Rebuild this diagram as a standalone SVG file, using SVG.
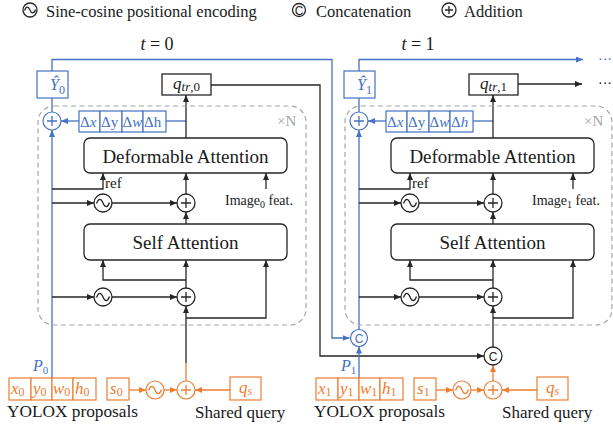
<svg xmlns="http://www.w3.org/2000/svg" width="613" height="429" viewBox="0 0 613 429">
<defs>
<style>
text{font-family:"Liberation Serif","DejaVu Serif",serif;fill:#1a1a1a}
.k{stroke:#262626;stroke-width:1.3;fill:none}
.b{stroke:#4472C4;stroke-width:1.3;fill:none}
.o{stroke:#ED7D31;stroke-width:1.3;fill:none}
.kb{stroke:#262626;stroke-width:1.3;fill:#fff}
.bb{stroke:#4472C4;stroke-width:1.2;fill:#fff}
.ob{stroke:#ED7D31;stroke-width:1.2;fill:#fff}
.dash{stroke:#A6A6A6;stroke-width:1.2;fill:none;stroke-dasharray:5 3.5}
.bt{fill:#4472C4}
.ot{fill:#ED7D31}
.m{font-style:italic}
.big{font-size:19px}
.lab{font-size:16.5px}
.d{font-size:15px;fill:#4472C4}
.o2{font-size:17px;fill:#ED7D31}
.cs{font-family:"Liberation Sans",sans-serif;font-size:12px}
</style>
<marker id="ak" markerWidth="7" markerHeight="6" refX="7" refY="3" orient="auto" markerUnits="userSpaceOnUse"><path d="M0,0 L7,3 L0,6 z" fill="#262626"/></marker>
<marker id="ab" markerWidth="7" markerHeight="6" refX="7" refY="3" orient="auto" markerUnits="userSpaceOnUse"><path d="M0,0 L7,3 L0,6 z" fill="#4472C4"/></marker>
<marker id="ao" markerWidth="7" markerHeight="6" refX="7" refY="3" orient="auto" markerUnits="userSpaceOnUse"><path d="M0,0 L7,3 L0,6 z" fill="#ED7D31"/></marker>
</defs>

<!-- legend -->
<g id="legend">
<circle cx="30" cy="10" r="7" class="kb"/>
<path d="M24.5,10.5 C26,6 28.5,6 30,10 C31.5,14 34,14 35.5,9.5" class="k"/>
<text x="46" y="16.5" class="lab">Sine-cosine positional encoding</text>
<circle cx="299" cy="10" r="6.5" class="kb"/>
<text x="299" y="14.5" text-anchor="middle" class="cs">C</text>
<text x="316" y="16.5" class="lab">Concatenation</text>
<circle cx="449" cy="10" r="7" class="kb"/>
<path d="M445,10 H453 M449,6 V14" class="k"/>
<text x="464" y="16.5" class="lab">Addition</text>
<text x="157" y="50" font-size="18" text-anchor="middle"><tspan class="m">t</tspan> = 0</text>
<text x="418" y="50" font-size="18" text-anchor="middle"><tspan class="m">t</tspan> = 1</text>
</g>

<!-- connectors -->
<g id="connectors">
<!-- left block -->
<path d="M52,71 V59.5 H332 V338 H349.5" class="b" marker-end="url(#ab)"/>
<path d="M52,98 V112" class="b"/>
<path d="M52,378 V130" class="b" marker-end="url(#ab)"/>
<path d="M79,121 H61" class="b" marker-end="url(#ab)"/>
<path d="M166,121 H186" class="b"/>
<path d="M186,138 V95" class="k" marker-end="url(#ak)"/>
<path d="M211,85 H320 V356 H484" class="k" marker-end="url(#ak)"/>
<path d="M52,189 H103 V173" class="k" marker-end="url(#ak)"/>
<path d="M52,203 H94" class="k" marker-end="url(#ak)"/>
<path d="M112,203 H177" class="k" marker-end="url(#ak)"/>
<path d="M186,224 V212" class="k" marker-end="url(#ak)"/>
<path d="M186,194 V173" class="k" marker-end="url(#ak)"/>
<path d="M266,189 V173" class="k" marker-end="url(#ak)"/>
<path d="M52,297 H94" class="k" marker-end="url(#ak)"/>
<path d="M112,297 H177" class="k" marker-end="url(#ak)"/>
<path d="M186,288 V260" class="k" marker-end="url(#ak)"/>
<path d="M186,280 H103 V260" class="k" marker-end="url(#ak)"/>
<path d="M186,363 V306" class="k" marker-end="url(#ak)"/>
<path d="M186,318 H266 V260" class="k" marker-end="url(#ak)"/>
<path d="M186,381 V363" class="o"/>
<path d="M129,390 H146" class="o" marker-end="url(#ao)"/>
<path d="M164,390 H177" class="o" marker-end="url(#ao)"/>
<path d="M230,390 H195" class="o" marker-end="url(#ao)"/>
<!-- right block -->
<path d="M359,71 V59.5 H583" class="b" marker-end="url(#ab)"/>
<path d="M359,98 V112" class="b"/>
<path d="M359,329.5 V130" class="b" marker-end="url(#ab)"/>
<path d="M359,378 V346.5" class="b" marker-end="url(#ab)"/>
<path d="M386,121 H368" class="b" marker-end="url(#ab)"/>
<path d="M473,121 H493" class="b"/>
<path d="M493,138 V95" class="k" marker-end="url(#ak)"/>
<path d="M518,84 H582" class="k" marker-end="url(#ak)"/>
<path d="M359,189 H410 V173" class="k" marker-end="url(#ak)"/>
<path d="M359,203 H401" class="k" marker-end="url(#ak)"/>
<path d="M419,203 H484" class="k" marker-end="url(#ak)"/>
<path d="M493,224 V212" class="k" marker-end="url(#ak)"/>
<path d="M493,194 V173" class="k" marker-end="url(#ak)"/>
<path d="M573,189 V173" class="k" marker-end="url(#ak)"/>
<path d="M359,297 H401" class="k" marker-end="url(#ak)"/>
<path d="M419,297 H484" class="k" marker-end="url(#ak)"/>
<path d="M493,288 V260" class="k" marker-end="url(#ak)"/>
<path d="M493,280 H410 V260" class="k" marker-end="url(#ak)"/>
<path d="M493,347 V306" class="k" marker-end="url(#ak)"/>
<path d="M493,318 H573 V260" class="k" marker-end="url(#ak)"/>
<path d="M493,381 V365" class="o" marker-end="url(#ao)"/>
<path d="M436,390 H453" class="o" marker-end="url(#ao)"/>
<path d="M471,390 H484" class="o" marker-end="url(#ao)"/>
<path d="M537,390 H502" class="o" marker-end="url(#ao)"/>
</g>
<text x="598" y="64" font-size="14" class="bt">···</text>
<text x="598" y="88" font-size="14">···</text>

<!-- ===== block t=0 ===== -->
<g id="block0-repeat">
<rect x="38" y="106" width="268" height="219" rx="16" class="dash"/>
<text x="277" y="126" font-size="15" style="fill:#A6A6A6">×N</text>
</g>
<g id="Y0">
<rect x="37" y="71" width="31" height="27" class="bb"/>
<text x="50" y="90" font-size="16" class="bt m">Ŷ<tspan font-size="12" dy="4" font-style="normal">0</tspan></text>
</g>
<g id="add-box0">
<circle cx="52" cy="121" r="9" class="bb"/>
<path d="M47,121 H57 M52,116 V126" class="b"/>
</g>
<g id="delta0">
<rect x="79" y="111" width="21" height="21" class="bb"/>
<rect x="100" y="111" width="22" height="21" class="bb"/>
<rect x="122" y="111" width="21" height="21" class="bb"/>
<rect x="143" y="111" width="23" height="21" class="bb"/>
<text x="80" y="127" class="d">Δ<tspan class="m">x</tspan></text>
<text x="101" y="127" class="d">Δy</text>
<text x="122.5" y="127" class="d">Δ<tspan class="m">w</tspan></text>
<text x="144" y="127" class="d">Δh</text>
</g>
<g id="q0">
<rect x="162" y="74" width="49" height="21" class="kb"/>
<text x="186.5" y="89" font-size="17" text-anchor="middle"><tspan class="m">q</tspan><tspan font-size="13" dy="2"><tspan class="m">tr</tspan>,0</tspan></text>
</g>
<g id="deform0">
<rect x="84" y="138" width="203" height="35" rx="6" class="kb"/>
<text x="185.5" y="162.5" class="big" text-anchor="middle">Deformable Attention</text>
</g>
<text x="105" y="188" font-size="15">ref</text>
<text x="225" y="205" font-size="14">Image<tspan font-size="10" dy="3">0</tspan><tspan dy="-3"> feat.</tspan></text>
<g id="pe0a"><circle cx="103" cy="203" r="9" class="kb"/><path d="M96.5,203.5 C98.5,198 101,198 103,203 C105,208 107.5,208 109.5,202.5" class="k"/></g>
<g id="add0a"><circle cx="186" cy="203" r="9" class="kb"/><path d="M181,203 H191 M186,198 V208" class="k"/></g>
<g id="self0">
<rect x="84" y="224" width="203" height="36" rx="6" class="kb"/>
<text x="185.5" y="248.5" class="big" text-anchor="middle">Self Attention</text>
</g>
<g id="pe0b"><circle cx="103" cy="297" r="9" class="kb"/><path d="M96.5,297.5 C98.5,292 101,292 103,297 C105,302 107.5,302 109.5,296.5" class="k"/></g>
<g id="add0b"><circle cx="186" cy="297" r="9" class="kb"/><path d="M181,297 H191 M186,292 V302" class="k"/></g>
<g id="prop0">
<rect x="9" y="378" width="22" height="22" class="ob"/>
<rect x="31" y="378" width="21" height="22" class="ob"/>
<rect x="52" y="378" width="21" height="22" class="ob"/>
<rect x="73" y="378" width="23" height="22" class="ob"/>
<text x="11" y="394" class="o2 m">x<tspan font-size="12" dy="2" font-style="normal">0</tspan></text>
<text x="33" y="394" class="o2 m">y<tspan font-size="12" dy="2" font-style="normal">0</tspan></text>
<text x="53" y="394" class="o2 m">w<tspan font-size="12" dy="2" font-style="normal">0</tspan></text>
<text x="75" y="394" class="o2 m">h<tspan font-size="12" dy="2" font-style="normal">0</tspan></text>
<text x="7" y="417" font-size="17.3">YOLOX proposals</text>
<text x="33" y="371" font-size="16" class="bt m">P<tspan font-size="11" dy="3" font-style="normal">0</tspan></text>
</g>
<g id="s0"><rect x="107" y="378" width="22" height="22" class="ob"/><text x="110" y="394" class="o2 m">s<tspan font-size="12" dy="2" font-style="normal">0</tspan></text></g>
<g id="pe0c"><circle cx="155" cy="390" r="9" class="ob"/><path d="M148.5,390.5 C150.5,385 153,385 155,390 C157,395 159.5,395 161.5,389.5" class="o"/></g>
<g id="add0c"><circle cx="186" cy="390" r="9" class="ob"/><path d="M181,390 H191 M186,385 V395" class="o"/></g>
<g id="qs0"><rect x="230" y="377" width="31" height="23" class="ob"/><text x="245.5" y="393" class="o2 m" text-anchor="middle">q<tspan font-size="12" dy="2">s</tspan></text>
<text x="195" y="418" font-size="17">Shared query</text></g>

<!-- ===== block t=1 ===== -->
<g id="block1-repeat">
<rect x="345" y="106" width="267" height="219" rx="16" class="dash"/>
<text x="584" y="126" font-size="15" style="fill:#A6A6A6">×N</text>
</g>
<g id="Y1">
<rect x="344" y="71" width="31" height="27" class="bb"/>
<text x="357" y="90" font-size="16" class="bt m">Ŷ<tspan font-size="12" dy="4" font-style="normal">1</tspan></text>
</g>
<g id="add-box1">
<circle cx="359" cy="121" r="9" class="bb"/>
<path d="M354,121 H364 M359,116 V126" class="b"/>
</g>
<g id="delta1">
<rect x="386" y="111" width="21" height="21" class="bb"/>
<rect x="407" y="111" width="22" height="21" class="bb"/>
<rect x="429" y="111" width="21" height="21" class="bb"/>
<rect x="450" y="111" width="23" height="21" class="bb"/>
<text x="387" y="127" class="d">Δ<tspan class="m">x</tspan></text>
<text x="408" y="127" class="d">Δy</text>
<text x="429.5" y="127" class="d">Δ<tspan class="m">w</tspan></text>
<text x="451" y="127" class="d">Δ<tspan class="m">h</tspan></text>
</g>
<g id="q1">
<rect x="469" y="74" width="49" height="21" class="kb"/>
<text x="493.5" y="89" font-size="17" text-anchor="middle"><tspan class="m">q</tspan><tspan font-size="13" dy="2"><tspan class="m">tr</tspan>,1</tspan></text>
</g>
<g id="deform1">
<rect x="391" y="138" width="203" height="35" rx="6" class="kb"/>
<text x="492.5" y="162.5" class="big" text-anchor="middle">Deformable Attention</text>
</g>
<text x="412" y="188" font-size="15">ref</text>
<text x="532" y="205" font-size="14">Image<tspan font-size="10" dy="3">1</tspan><tspan dy="-3"> feat.</tspan></text>
<g id="pe1a"><circle cx="410" cy="203" r="9" class="kb"/><path d="M403.5,203.5 C405.5,198 408,198 410,203 C412,208 414.5,208 416.5,202.5" class="k"/></g>
<g id="add1a"><circle cx="493" cy="203" r="9" class="kb"/><path d="M488,203 H498 M493,198 V208" class="k"/></g>
<g id="self1">
<rect x="391" y="224" width="203" height="36" rx="6" class="kb"/>
<text x="492.5" y="248.5" class="big" text-anchor="middle">Self Attention</text>
</g>
<g id="pe1b"><circle cx="410" cy="297" r="9" class="kb"/><path d="M403.5,297.5 C405.5,292 408,292 410,297 C412,302 414.5,302 416.5,296.5" class="k"/></g>
<g id="add1b"><circle cx="493" cy="297" r="9" class="kb"/><path d="M488,297 H498 M493,292 V302" class="k"/></g>
<g id="concat-box"><circle cx="359" cy="338" r="8.5" class="bb"/><text x="359" y="342.5" text-anchor="middle" class="cs" style="fill:#4472C4">C</text></g>
<g id="concat-query"><circle cx="493" cy="356" r="9" class="kb"/><text x="493" y="360.5" text-anchor="middle" class="cs">C</text></g>
<g id="prop1">
<rect x="316" y="378" width="22" height="22" class="ob"/>
<rect x="338" y="378" width="21" height="22" class="ob"/>
<rect x="359" y="378" width="21" height="22" class="ob"/>
<rect x="380" y="378" width="23" height="22" class="ob"/>
<text x="318" y="394" class="o2 m">x<tspan font-size="12" dy="2" font-style="normal">1</tspan></text>
<text x="340" y="394" class="o2 m">y<tspan font-size="12" dy="2" font-style="normal">1</tspan></text>
<text x="360" y="394" class="o2 m">w<tspan font-size="12" dy="2" font-style="normal">1</tspan></text>
<text x="382" y="394" class="o2 m">h<tspan font-size="12" dy="2" font-style="normal">1</tspan></text>
<text x="314" y="417" font-size="17.3">YOLOX proposals</text>
<text x="341" y="371" font-size="16" class="bt m">P<tspan font-size="11" dy="3" font-style="normal">1</tspan></text>
</g>
<g id="s1"><rect x="414" y="378" width="22" height="22" class="ob"/><text x="417" y="394" class="o2 m">s<tspan font-size="12" dy="2" font-style="normal">1</tspan></text></g>
<g id="pe1c"><circle cx="462" cy="390" r="9" class="ob"/><path d="M455.5,390.5 C457.5,385 460,385 462,390 C464,395 466.5,395 468.5,389.5" class="o"/></g>
<g id="add1c"><circle cx="493" cy="390" r="9" class="ob"/><path d="M488,390 H498 M493,385 V395" class="o"/></g>
<g id="qs1"><rect x="537" y="377" width="31" height="23" class="ob"/><text x="552.5" y="393" class="o2 m" text-anchor="middle">q<tspan font-size="12" dy="2">s</tspan></text>
<text x="502" y="418" font-size="17">Shared query</text></g>
</svg>
